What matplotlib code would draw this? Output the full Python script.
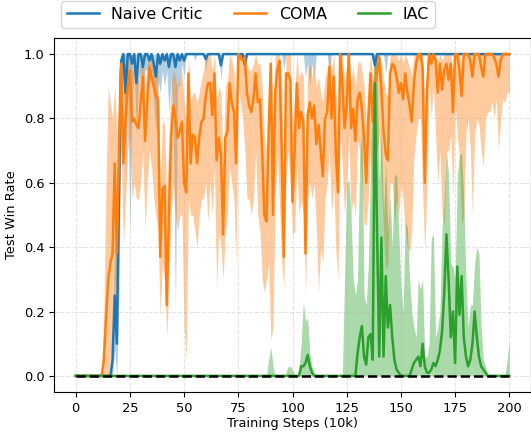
import numpy as np
import matplotlib
matplotlib.use("Agg")
import matplotlib.pyplot as plt

steps = list(range(201))

naive_mean = [0]*17 + [0.05, 0.25, 0.1,
    0.6, 0.98, 1.0, 0.88, 1.0, 1.0, 0.97, 1.0, 0.91, 1.0,
    1.0, 0.96, 1.0, 1.0, 0.98, 1.0, 0.97, 0.93, 1.0, 0.97,
    1.0, 0.98, 1.0, 0.96, 1.0, 1.0, 0.96, 1.0, 0.98, 1.0,
    0.98, 1, 1, 1, 1, 1, 1, 1, 1, 1,
    0.985, 1, 1, 1, 1, 1, 1, 0.965, 1, 1,
    1, 1, 1, 1, 1, 1, 1, 1, 0.965, 1,
    1, 1, 1, 1, 1, 1, 1, 1, 1, 1,
    1, 1, 1, 1, 1, 1, 1, 1, 1, 1,
    1, 1, 1, 1, 1, 1, 1, 1, 1, 1,
    1, 1, 1, 1, 1, 1, 1, 1, 1, 1,
    1, 1, 1, 1, 1, 1, 1, 1, 1, 1,
    1, 1, 1, 1, 1, 1, 1, 1, 0.965, 1,
    1, 1, 1, 1, 1, 1, 1, 1, 1, 1,
    1, 1, 1, 1, 1, 1, 1, 1, 1, 1,
    1, 1, 1, 1, 1, 1, 1, 1, 1, 1,
    1, 1, 1, 1, 1, 1, 1, 1, 1, 1,
    1, 1, 1, 1, 1, 1, 1, 1, 1, 1,
    1, 1, 1, 1, 1, 1, 1, 1, 1, 1,
    1]

naive_lo = [0]*17 + [0.0, 0.08, 0.0,
    0.25, 0.88, 0.92, 0.6, 0.9, 0.44, 0.85, 0.95, 0.75, 0.92,
    0.95, 0.85, 0.95, 0.95, 0.9, 0.95, 0.85, 0.75, 0.92, 0.88,
    0.95, 0.9, 0.95, 0.82, 0.92, 0.8, 0.2, 0.9, 0.9, 0.97,
    0.93, 1, 1, 1, 1, 0.98, 1, 1, 1, 1,
    0.95, 1, 1, 1, 1, 1, 1, 0.92, 1, 1,
    1, 1, 1, 1, 1, 1, 1, 1, 0.92, 1,
    1, 1, 1, 1, 1, 1, 1, 1, 1, 1,
    1, 1, 1, 1, 1, 1, 0.95, 1, 1, 1,
    1, 1, 1, 1, 1, 1, 0.93, 0.97, 0.9, 0.97,
    0.93, 1, 1, 1, 1, 1, 1, 0.94, 1, 1,
    1, 1, 1, 1, 1, 1, 1, 1, 1, 1,
    1, 1, 1, 1, 1, 1, 1, 1, 0.92, 1,
    1, 1, 1, 0.94, 1, 1, 1, 1, 1, 1,
    1, 1, 1, 1, 1, 1, 1, 1, 1, 1,
    1, 1, 1, 1, 1, 1, 1, 1, 1, 1,
    1, 1, 1, 1, 1, 1, 1, 1, 1, 1,
    1, 1, 1, 1, 1, 1, 1, 1, 1, 1,
    1, 1, 1, 1, 1, 1, 1, 1, 1, 1,
    1]

naive_hi = [0]*17 + [0.1, 0.45, 0.5, 0.95] + [1.0]*180

coma_mean = [
    0, 0, 0, 0, 0, 0, 0, 0, 0, 0,
    0, 0, 0, 0.05, 0.18, 0.3, 0.35, 0.38, 0.66, 0.38,
    0.7, 0.97, 0.66, 0.8, 0.9, 0.95, 0.79, 0.8, 0.78, 0.77,
    0.85, 0.93, 0.73, 0.85, 0.96, 0.93, 0.9, 0.87, 0.86, 0.37,
    0.58, 0.59, 0.22, 0.5, 0.74, 0.84, 0.8, 0.74, 0.76, 0.79,
    0.6, 0.57, 0.94, 0.66, 0.75, 0.74, 0.66, 0.74, 0.79, 0.8,
    0.87, 0.91, 0.91, 0.81, 0.94, 0.67, 0.74, 0.69, 0.44, 0.74,
    0.76, 0.91, 0.85, 0.82, 0.66, 1.0, 0.99, 0.98, 0.99, 0.88,
    0.84, 0.82, 0.86, 0.94, 0.85, 0.86, 0.7, 0.5, 0.48, 0.75,
    0.97, 0.5, 0.88, 0.95, 0.98, 0.7, 0.37, 0.94, 0.94, 0.92,
    0.54, 0.7, 0.91, 0.77, 0.82, 0.79, 0.38, 0.81, 0.85, 0.8,
    0.84, 0.72, 0.78, 0.7, 0.62, 0.8, 0.82, 0.96, 0.8, 0.93,
    0.69, 0.57, 1.0, 0.91, 0.77, 0.84, 1.0, 0.77, 0.83, 0.73,
    0.86, 0.88, 0.83, 0.74, 0.6, 0.79, 0.94, 0.79, 0.91, 0.94,
    0.99, 0.89, 0.76, 0.69, 0.67, 0.94, 0.97, 0.96, 0.93, 0.88,
    0.91, 0.86, 0.94, 0.88, 0.84, 0.79, 0.91, 0.97, 1.0, 1.0,
    0.96, 0.6, 0.88, 1.0, 0.97, 1.0, 0.98, 0.88, 0.97, 0.89,
    0.95, 0.97, 0.92, 0.97, 0.82, 1.0, 1.0, 0.95, 0.87, 1.0,
    1.0, 1.0, 0.98, 0.93, 1.0, 1.0, 1.0, 0.96, 0.93, 1.0,
    1.0, 1.0, 1.0, 0.99, 0.97, 0.93, 0.98, 1.0, 1.0, 1.0,
    1.0]

coma_lo = [
    0, 0, 0, 0, 0, 0, 0, 0, 0, 0,
    0, 0, 0, 0, 0, 0, 0.05, 0.1, 0.3, 0.1,
    0.45, 0.7, 0.4, 0.55, 0.7, 0.75, 0.55, 0.6, 0.55, 0.55,
    0.6, 0.7, 0.45, 0.6, 0.7, 0.65, 0.55, 0.5, 0.45, 0.18,
    0.35, 0.3, 0.12, 0.28, 0.5, 0.6, 0.5, 0.45, 0.5, 0.5,
    0.15, 0.05, 0.55, 0.5, 0.5, 0.45, 0.4, 0.5, 0.55, 0.55,
    0.6, 0.48, 0.6, 0.5, 0.65, 0.27, 0.45, 0.4, 0.3, 0.45,
    0.5, 0.65, 0.6, 0.55, 0.35, 0.9, 0.85, 0.8, 0.7, 0.55,
    0.55, 0.5, 0.55, 0.7, 0.5, 0.45, 0.3, 0.26, 0.3, 0.35,
    0.11, 0.15, 0.55, 0.7, 0.53, 0.35, 0.28, 0.6, 0.7, 0.6,
    0.44, 0.45, 0.65, 0.5, 0.55, 0.5, 0.26, 0.55, 0.6, 0.55,
    0.6, 0.45, 0.26, 0.4, 0.35, 0.55, 0.6, 0.7, 0.5, 0.6,
    0.39, 0.3, 0.75, 0.65, 0.5, 0.6, 0.75, 0.5, 0.55, 0.5,
    0.73, 0.7, 0.6, 0.47, 0.47, 0.55, 0.7, 0.55, 0.65, 0.7,
    0.75, 0.6, 0.45, 0.33, 0.35, 0.6, 0.6, 0.47, 0.55, 0.5,
    0.6, 0.55, 0.45, 0.4, 0.38, 0.45, 0.68, 0.75, 0.8, 0.8,
    0.58, 0.38, 0.6, 0.92, 0.8, 0.9, 0.75, 0.6, 0.7, 0.5,
    0.47, 0.7, 0.7, 0.75, 0.55, 0.85, 0.75, 0.68, 0.47, 0.5,
    0.75, 0.8, 0.7, 0.5, 0.75, 0.8, 0.78, 0.7, 0.65, 0.8,
    0.82, 0.82, 0.85, 0.8, 0.86, 0.7, 0.8, 0.86, 0.85, 0.88,
    0.88]

coma_hi = [
    0, 0, 0, 0, 0, 0, 0, 0, 0, 0,
    0, 0, 0.02, 0.2, 0.6, 0.9, 0.85, 0.8, 0.9, 0.75,
    0.95, 1.0, 0.95, 0.97, 1.0, 1.0, 0.95, 0.95, 0.93, 0.92,
    0.98, 1.0, 0.9, 0.97, 1.0, 1.0, 0.98, 0.95, 0.95, 0.6,
    0.8, 0.78, 0.55, 0.75, 0.9, 0.95, 0.93, 0.9, 0.92, 0.95,
    0.85, 0.8, 1.0, 0.85, 0.88, 0.88, 0.85, 0.88, 0.92, 0.95,
    1.0, 1.0, 1.0, 0.95, 1.0, 0.85, 0.9, 0.88, 0.65, 0.9,
    0.92, 1.0, 0.98, 0.95, 0.85, 1.0, 1.0, 1.0, 1.0, 0.97,
    0.95, 0.95, 0.97, 1.0, 0.97, 0.97, 0.9, 0.75, 0.7, 0.92,
    1.0, 0.8, 1.0, 1.0, 1.0, 0.92, 0.6, 1.0, 1.0, 1.0,
    0.75, 0.88, 1.0, 0.92, 0.95, 0.93, 0.6, 0.95, 0.97, 0.93,
    0.97, 0.9, 0.93, 0.88, 0.85, 0.93, 0.95, 1.0, 0.95, 1.0,
    0.88, 0.8, 1.0, 1.0, 0.92, 0.97, 1.0, 0.92, 0.96, 0.9,
    0.97, 0.98, 0.95, 0.9, 0.8, 0.93, 1.0, 0.93, 1.0, 1.0,
    1.0, 0.98, 0.92, 0.88, 0.87, 1.0, 1.0, 1.0, 1.0, 0.98,
    1.0, 0.97, 1.0, 0.98, 0.96, 0.93, 1.0, 1.0, 1.0, 1.0,
    1.0, 0.82, 0.98, 1.0, 1.0, 1.0, 1.0, 0.98, 1.0, 0.98,
    1.0, 1.0, 1.0, 1.0, 0.95, 1.0, 1.0, 1.0, 0.97, 1.0,
    1.0, 1.0, 1.0, 1.0, 1.0, 1.0, 1.0, 1.0, 1.0, 1.0,
    1.0, 1.0, 1.0, 1.0, 1.0, 1.0, 1.0, 1.0, 1.0, 1.0,
    1.0]

iac_mean = [0]*104 + [0.03, 0.03, 0.04, 0.065, 0.03, 0.01] + [0]*20 + [
    0.07, 0.12, 0.155, 0.06, 0.035, 0.12, 0.13, 0.05, 0.91, 0.45,
    0.06, 0.43, 0.06, 0.31, 0.15, 0.22, 0.12, 0.05, 0.02, 0.01,
    0, 0, 0, 0, 0, 0.02, 0.04, 0.05, 0.06, 0.03,
    0.1, 0.03, 0.01, 0.01, 0.02, 0.04, 0.03, 0.05, 0.08, 0.14,
    0.26, 0.44, 0.3, 0.12, 0.2, 0.04, 0.34, 0.19, 0.31, 0.12,
    0.06, 0.03, 0.05, 0.1, 0.2, 0.12, 0.06, 0.03, 0.02, 0.01,
    0, 0, 0, 0, 0, 0, 0, 0, 0, 0,
    0]

iac_hi = [0]*89 + [
    0.05, 0.09, 0.03, 0, 0, 0, 0, 0, 0.01, 0.03, 0.03,
    0.02, 0, 0, 0.02, 0.1, 0.23, 0.17, 0.18, 0.07, 0.03, 0.01] + [0]*13 + [
    0.3, 0.6, 0.61, 0.5, 0.3, 0.25,
    0.3, 0.68, 0.77, 0.25, 0.22, 0.35, 0.66, 0.9, 1.0, 0.95,
    0.6, 0.77, 0.5, 0.66, 0.45, 0.56, 0.4, 0.62, 0.63, 0.45,
    0.28, 0.2, 0.48, 0.46, 0.3, 0.2, 0.15, 0.12, 0.3, 0.27,
    0.3, 0.06, 0.06, 0.1, 0.43, 0.44, 0.12, 0.15, 0.2, 0.46,
    0.55, 0.7, 0.62, 0.35, 0.34, 0.3, 0.62, 0.69, 0.69, 0.55,
    0.3, 0.15, 0.22, 0.22, 0.35, 0.4, 0.38, 0.15, 0.05, 0.03,
    0.01, 0, 0, 0, 0, 0, 0, 0, 0, 0.05, 0.11]

x_ticks = [0, 25, 50, 75, 100, 125, 150, 175, 200]
y_ticks = [0.0, 0.2, 0.4, 0.6, 0.8, 1.0]

fig = plt.figure(figsize=(5.31, 4.37), dpi=100)
ax = fig.add_axes([0.1017, 0.103, 0.8983, 0.81])

ax.plot(steps, naive_mean, color="tab:blue", lw=1.8, label="Naive Critic")
ax.fill_between(steps, naive_lo, naive_hi, color="tab:blue", alpha=0.35, lw=0)
ax.plot(steps, coma_mean, color="tab:orange", lw=1.8, label="COMA")
ax.fill_between(steps, coma_lo, coma_hi, color="tab:orange", alpha=0.4, lw=0)
ax.plot(steps, iac_mean, color="tab:green", lw=1.8, label="IAC")
ax.fill_between(steps, 0, iac_hi, color="tab:green", alpha=0.4, lw=0)
ax.hlines(0, steps[0], steps[-1], colors="k", linestyles="--", lw=1.8, zorder=5)

ax.set_xlim(-10, 210)
ax.set_ylim(-0.05, 1.05)
ax.set_xticks(x_ticks)
ax.set_yticks(y_ticks)
ax.tick_params(labelsize=9.4)
ax.grid(True, linestyle="--", alpha=0.35, lw=0.8)
ax.set_xlabel("Training Steps (10k)", fontsize=9.4, labelpad=2)
ax.set_ylabel("Test Win Rate", fontsize=9.4)

fig.legend(loc="center", bbox_to_anchor=(0.467, 0.967), ncol=3, fontsize=11.4,
           bbox_transform=fig.transFigure)

fig.savefig("out.png", dpi=100)
